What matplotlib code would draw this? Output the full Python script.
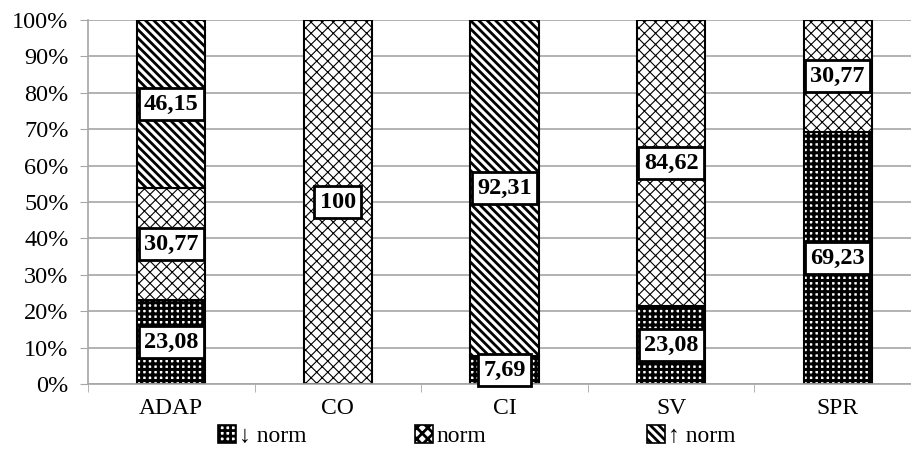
import numpy as np
import matplotlib
matplotlib.use("Agg")
import matplotlib.pyplot as plt
from matplotlib.patches import Patch
from matplotlib.ticker import FixedLocator, PercentFormatter

categories = ["ADAP", "CO", "CI", "SV", "SPR"]
series_names = ["\u2193 norm", "norm", "\u2191 norm"]
below_norm = [23.08, 0.0, 7.69, 23.08, 69.23]
at_norm = [30.77, 100.0, 0.0, 84.62, 30.77]
above_norm = [46.15, 0.0, 92.31, 0.0, 0.0]

plt.rcParams["font.family"] = ["Liberation Serif", "DejaVu Serif"]
plt.rcParams["hatch.linewidth"] = 2.0

GRID = "#a6a6a6"
hatches = ["+++", "xxx", "\\\\\\\\"]
hatch_widths = [2.2, 0.8, 2.0]

fig = plt.figure(figsize=(9.11, 4.68), dpi=100)
ax = fig.add_axes([88 / 911, 84 / 468, 833 / 911, 364 / 468])

values = np.array([below_norm, at_norm, above_norm])
# 100% stacked: each column is scaled to its own total
shares = values / values.sum(axis=0) * 100
x = np.arange(len(categories))
bottom = np.zeros(len(categories))

handles = []
for i, name in enumerate(series_names):
    plt.rcParams["hatch.linewidth"] = hatch_widths[i]
    bars = ax.bar(x, shares[i], 0.41, bottom=bottom, facecolor="white",
                  edgecolor="black", hatch=hatches[i], linewidth=1.5, zorder=2)
    for b in bars:
        if hasattr(b, "set_hatch_linewidth"):
            b.set_hatch_linewidth(hatch_widths[i])
    for xi, raw, h, b0 in zip(x, values[i], shares[i], bottom):
        if raw <= 0:
            continue
        ax.text(xi, b0 + h / 2, f"{raw:g}".replace(".", ","), ha="center",
                va="center", fontsize=17.5, fontweight="bold", zorder=4,
                bbox=dict(boxstyle="square,pad=0.22", facecolor="white",
                          edgecolor="black", linewidth=2))
    bottom += shares[i]
    handles.append(Patch(facecolor="white", edgecolor="black",
                         hatch=hatches[i], linewidth=1.2, label=name))
plt.rcParams["hatch.linewidth"] = 2.0

ax.set_xlim(-0.5, len(categories) - 0.5)
ax.set_ylim(0, 100)
ax.set_yticks(np.arange(0, 101, 10))
ax.yaxis.set_major_formatter(PercentFormatter(decimals=0))
ax.set_xticks(x)
ax.set_xticklabels(categories)
ax.xaxis.set_minor_locator(FixedLocator(np.arange(-0.5, len(categories), 1.0)))
ax.tick_params(axis="x", which="major", length=0, labelsize=17, pad=10)
ax.tick_params(axis="x", which="minor", length=6, color=GRID)
ax.tick_params(axis="y", length=6, color=GRID, labelsize=17.5, pad=8)

ax.grid(axis="y", color=GRID, linewidth=1.2, zorder=0)
ax.set_axisbelow(True)
for side in ["top", "right"]:
    ax.spines[side].set_visible(False)
for side in ["left", "bottom"]:
    ax.spines[side].set_color(GRID)
    ax.spines[side].set_linewidth(1.2)

# one legend entry per slot along the bottom
legend_left = [218, 415, 647]
for h, px in zip(handles, legend_left):
    fig.legend(handles=[h], loc="center left", bbox_to_anchor=(px / 911, 0.068),
               frameon=False, fontsize=17, handlelength=0.75, handleheight=0.75,
               handletextpad=0.15, borderpad=0, borderaxespad=0)

fig.savefig("out.png", dpi=100)
